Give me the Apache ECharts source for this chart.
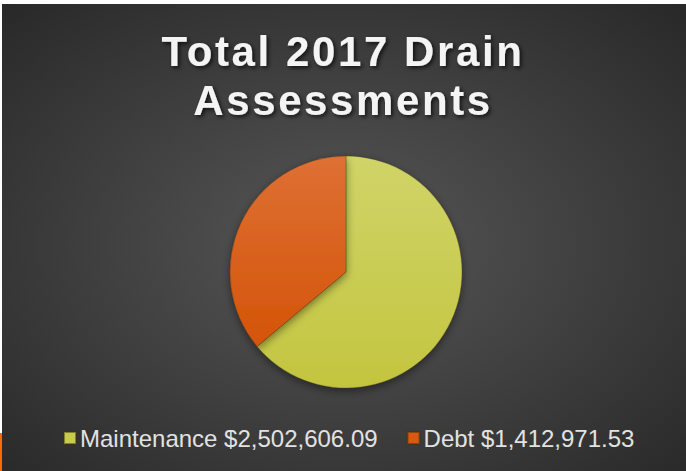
<!DOCTYPE html>
<html>
<head>
<meta charset="utf-8">
<script src="https://cdn.jsdelivr.net/npm/echarts@6/dist/echarts.min.js"></script>
<style>
  html, body { margin: 0; padding: 0; background: #fff; }
  #chart { width: 686px; height: 471px; }
  /* the title in the slide is set with wide letter spacing */
  #chart text[style*="bold"] { letter-spacing: 2.6px; }
</style>
</head>
<body>
<div id="chart"></div>
<script>
var titleText = 'Total 2017 Drain\nAssessments'
var categories = ['Maintenance', 'Debt']
var amounts = [2502606.09, 1412971.53]

function money(v) {
  return '$' + v.toLocaleString('en-US', { minimumFractionDigits: 2, maximumFractionDigits: 2 })
}

function grad(top, bottom) {
  return new echarts.graphic.LinearGradient(0, 0, 0, 1, [
    { offset: 0, color: top },
    { offset: 1, color: bottom }
  ])
}

var sliceColors = [grad('#d0d468', '#c3c53f'), grad('#de7034', '#d45408')]
var legendColors = ['#c8cc4c', '#d8590f']

var chart = echarts.init(document.getElementById('chart'), null, { renderer: 'svg' })
chart.setOption({
  backgroundColor: {
    type: 'radial', x: 0.5, y: 0.52, r: 0.75,
    colorStops: [
      { offset: 0, color: '#575757' },
      { offset: 1, color: '#262626' }
    ]
  },
  title: {
    text: titleText,
    left: 'center',
    top: 22,
    textStyle: {
      color: '#f4f4f4',
      fontFamily: 'Liberation Sans, Arial, sans-serif',
      fontWeight: 'bold',
      fontSize: 42,
      lineHeight: 49,
      textShadowColor: 'rgba(0,0,0,0.7)',
      textShadowBlur: 4,
      textShadowOffsetX: 2,
      textShadowOffsetY: 2
    }
  },
  legend: {
    bottom: 16,
    left: 58,
    icon: 'rect',
    itemWidth: 12,
    itemHeight: 12,
    itemGap: 29,
    textStyle: {
      color: '#e2e2e2',
      fontFamily: 'Liberation Sans, Arial, sans-serif',
      fontSize: 24,
      padding: [0, 0, 0, -1]
    },
    formatter: function (name) {
      return name + ' ' + money(amounts[categories.indexOf(name)])
    },
    data: categories.map(function (c, i) {
      return { name: c, itemStyle: { color: legendColors[i] } }
    })
  },
  graphic: [
    { type: 'rect', shape: { x: 0, y: 0, width: 686, height: 4 }, style: { fill: '#ffffff' } },
    { type: 'rect', shape: { x: 0, y: 0, width: 2, height: 471 }, style: { fill: '#ffffff' } },
    { type: 'rect', shape: { x: 0, y: 433, width: 2, height: 38 }, style: { fill: '#ff6a00' } }
  ],
  series: [{
    type: 'pie',
    center: [346, 272],
    radius: 116,
    startAngle: 90,
    clockwise: true,
    label: { show: false },
    labelLine: { show: false },
    emphasis: { disabled: true },
    itemStyle: {
      borderColor: 'rgba(60,50,20,0.5)',
      borderWidth: 0.6,
      shadowColor: 'rgba(0,0,0,0.45)',
      shadowBlur: 8,
      shadowOffsetY: 3
    },
    data: categories.map(function (c, i) {
      return { name: c, value: amounts[i], itemStyle: { color: sliceColors[i] } }
    })
  }]
})
</script>
</body>
</html>
